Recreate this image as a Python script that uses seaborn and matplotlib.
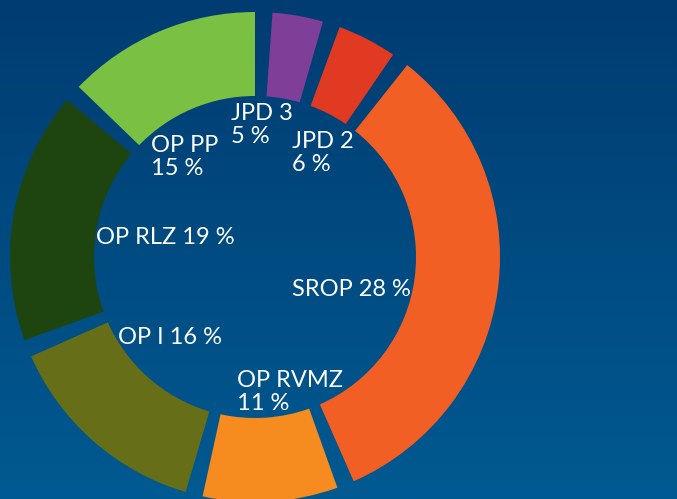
import numpy as np
import matplotlib
matplotlib.use("Agg")
import matplotlib.pyplot as plt
from matplotlib.colors import LinearSegmentedColormap
import seaborn as sns

# ---- data (arc sizes, in degrees) ----
programmes = ["JPD 3", "JPD 2", "SROP", "OP RVMZ", "OP I", "OP RLZ", "OP PP"]
percent_labels = ["5 %", "6 %", "28 %", "11 %", "16 %", "19 %", "15 %"]
arc_sizes = [12.0, 14.1, 117.8, 32.0, 49.6, 59.7, 46.0]
gap_size = 4.1
seg_colors = ["#7F3F98", "#E13A23", "#F15F24", "#F68B1F", "#666F17", "#1E4510", "#7AC143"]

# label text layout (pixel positions, image coords: x left, y centre of block)
label_text = ["JPD 3\n5 %", "JPD 2\n6 %", "SROP 28 %", "OP RVMZ\n11 %",
              "OP I 16 %", "OP RLZ 19 %", "OP PP\n15 %"]
label_xy = [(231, 125), (292, 153), (292, 289), (237, 392),
            (118, 337), (96, 237), (151, 157)]

W, H = 677, 499
sns.set_theme(style="white")
plt.rcParams["font.family"] = ["Lato", "DejaVu Sans"]

fig = plt.figure(figsize=(W / 100, H / 100), dpi=100)
ax = fig.add_axes([0, 0, 1, 1])

# background gradient
grad = np.linspace(1, 0, 256).reshape(-1, 1)
cmap = LinearSegmentedColormap.from_list("bg", ["#003C71", "#005A91"])
ax.imshow(grad[::-1], cmap=cmap, extent=(0, W, 0, H), aspect="auto", zorder=0,
          origin="upper", vmin=0, vmax=1)

# build interleaved values: gap, segment, gap, segment ...
values, colors = [], []
pal = sns.color_palette(seg_colors)
for v, c in zip(arc_sizes, pal):
    values += [gap_size, v]
    colors += [(0, 0, 0, 0), c]

R_out, R_in = 245, 161
cx, cy = 255, H - 257
ax.pie(values, colors=colors, startangle=90, counterclock=False,
       radius=R_out, center=(cx, cy),
       wedgeprops=dict(width=R_out - R_in, linewidth=0, zorder=2))

for txt, (x, y) in zip(label_text, label_xy):
    ax.text(x, H - y, txt, color="white", fontsize=17, ha="left", va="center",
            linespacing=1.1, zorder=3)

ax.set_xlim(0, W)
ax.set_ylim(0, H)
ax.set_aspect("auto")
ax.axis("off")
fig.savefig("out.png", dpi=100)
